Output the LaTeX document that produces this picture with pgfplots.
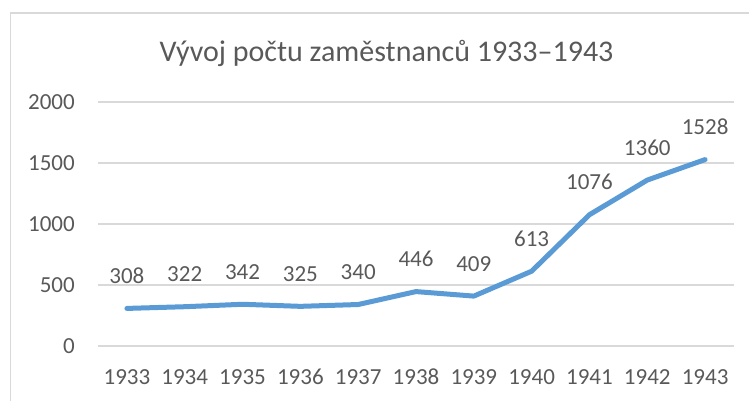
\documentclass[border=0pt]{standalone}
\usepackage{pgfplots}
\pgfplotsset{compat=1.18}
\usepackage{fontspec}
\setmainfont{Carlito}
\definecolor{txt}{HTML}{595959}
\definecolor{gridc}{HTML}{D9D9D9}
\definecolor{linec}{HTML}{5B9BD5}
\begin{document}
\begin{tikzpicture}[x=1pt,y=1pt]
\useasboundingbox (0,0) rectangle (749,401);
\draw[gridc, line width=1.5pt] (10.5,-20) -- (10.5,388) -- (780,388);
\node[anchor=base, text=txt, inner sep=0pt, font=\fontsize{30}{36}\selectfont] at (386.5,339) {Vývoj počtu zaměstnanců 1933–1943};
\begin{axis}[
  at={(98pt,55pt)}, anchor=south west,
  scale only axis, width=636pt, height=244pt,
  xmin=-0.5, xmax=10.5, ymin=0, ymax=2000,
  ytick={0,500,1000,1500,2000},
  xtick={0,1,2,3,4,5,6,7,8,9,10},
  xticklabels={1933,1934,1935,1936,1937,1938,1939,1940,1941,1942,1943},
  axis line style={draw=none},
  major tick length=0pt,
  tick style={draw=none},
  ymajorgrids,
  grid style={gridc, line width=1.5pt},
  clip=false,
  /pgf/number format/assume math mode=true,
  /pgf/number format/1000 sep={},
  ticklabel style={font=\fontsize{23}{27}\selectfont, text=txt, inner sep=0pt},
  yticklabel style={anchor=east, xshift=-23pt},
  xticklabel style={anchor=base, yshift=-39pt},
  nodes near coords,
  every node near coord/.append style={anchor=base, yshift=25pt, inner sep=0pt, font=\fontsize{23}{27}\selectfont, text=txt, /pgf/number format/assume math mode=true, /pgf/number format/1000 sep={}},
]
\addplot[linec, line width=5pt, line join=round, line cap=round, mark=none] coordinates {
 (0,308) (1,322) (2,342) (3,325) (4,340) (5,446) (6,409) (7,613) (8,1076) (9,1360) (10,1528)
};
\end{axis}
\end{tikzpicture}
\end{document}
